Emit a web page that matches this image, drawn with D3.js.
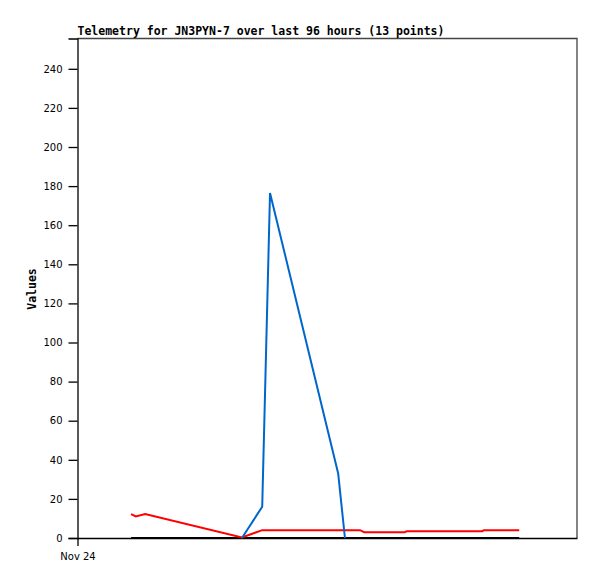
<!DOCTYPE html>
<html><head><meta charset="utf-8">
<script src="https://cdn.jsdelivr.net/npm/d3@7"></script>
<style>body{margin:0;background:#fff}svg{display:block}</style>
</head><body>
<script>
// hours since Nov 24 00:00
const times = [10.3, 11.2, 13.0, 31.6, 35.5, 37.0, 50.1, 51.4, 54.3, 55.1, 62.9, 63.3, 77.8, 78.1, 84.9];
const redValues  = [12.2, 11.0, 12.2, 0.3, 4.0, 4.0, 4.0, 4.0, 4.0, 3.0, 3.0, 3.5, 3.5, 4.0, 4.0];
const blueValues = [null, null, null, 0, 16, 176.5, 33, 0, null, null, null, null, null, null, null];
const blackValues = [0, 0, 0, 0, 0, 0, 0, 0, 0, 0, 0, 0, 0, 0, 0];
const yTicks = [0, 20, 40, 60, 80, 100, 120, 140, 160, 180, 200, 220, 240];
const xTickHours = [0];
const xTickLabels = ["Nov 24"];
const titleText = "Telemetry for JN3PYN-7 over last 96 hours (13 points)";
const yLabelText = "Values";

const W = 597, H = 579;
const m = {left: 77.5, right: 577, top: 38.5, bottom: 538};
const svg = d3.select("body").append("svg").attr("width", W).attr("height", H);

const x = d3.scaleLinear().domain([0, 96]).range([m.left, m.right]);
const y = d3.scaleLinear().domain([0, 255.5]).range([m.bottom, m.top]);

// frame top & right
svg.append("path")
  .attr("d", `M${m.left},${m.top}H${m.right}V${m.bottom}`)
  .attr("fill", "none").attr("stroke", "#444").attr("stroke-width", 1.3);

const mono = "'DejaVu Sans Mono', monospace";
const sans = "'DejaVu Sans', sans-serif";

// y axis
const ya = svg.append("g").attr("transform", `translate(${m.left},0)`)
  .call(d3.axisLeft(y).tickValues(yTicks).tickSize(9).tickPadding(6));
ya.select(".domain").attr("stroke", "#000").attr("stroke-width", 1.3);
ya.selectAll(".tick line").attr("stroke", "#000").attr("stroke-width", 1.3);
ya.selectAll("text").attr("font-family", sans).attr("font-size", 10).attr("fill", "#000");

// x axis
const xa = svg.append("g").attr("transform", `translate(0,${m.bottom})`)
  .call(d3.axisBottom(x).tickValues(xTickHours).tickFormat((d, i) => xTickLabels[i]).tickSize(8).tickPadding(7).tickSizeOuter(0));
xa.select(".domain").attr("stroke", "#000").attr("stroke-width", 1.3);
xa.selectAll(".tick line").attr("stroke", "#000").attr("stroke-width", 1.3);
xa.selectAll("text").attr("font-family", sans).attr("font-size", 10).attr("fill", "#000");

// title
svg.append("text").attr("x", m.left).attr("y", 35)
  .attr("font-family", mono).attr("font-weight", "bold").attr("font-size", 11.5)
  .attr("fill", "#000").text(titleText);

// y label
svg.append("text").attr("transform", "translate(35.5,289) rotate(-90)")
  .attr("text-anchor", "middle")
  .attr("font-family", mono).attr("font-weight", "bold").attr("font-size", 11.5)
  .attr("fill", "#000").text(yLabelText);

const line = d3.line().defined(d => d[1] !== null).x(d => x(d[0])).y(d => y(d[1]));
function draw(vals, color) {
  const pts = times.map((t, i) => [t, vals[i]]);
  svg.append("path").attr("d", line(pts)).attr("fill", "none")
    .attr("stroke", color).attr("stroke-width", 2).attr("stroke-linejoin", "miter");
}
draw(blackValues, "#000000");
draw(redValues, "#ff0000");
draw(blueValues, "#0066cc");
</script>
</body></html>
